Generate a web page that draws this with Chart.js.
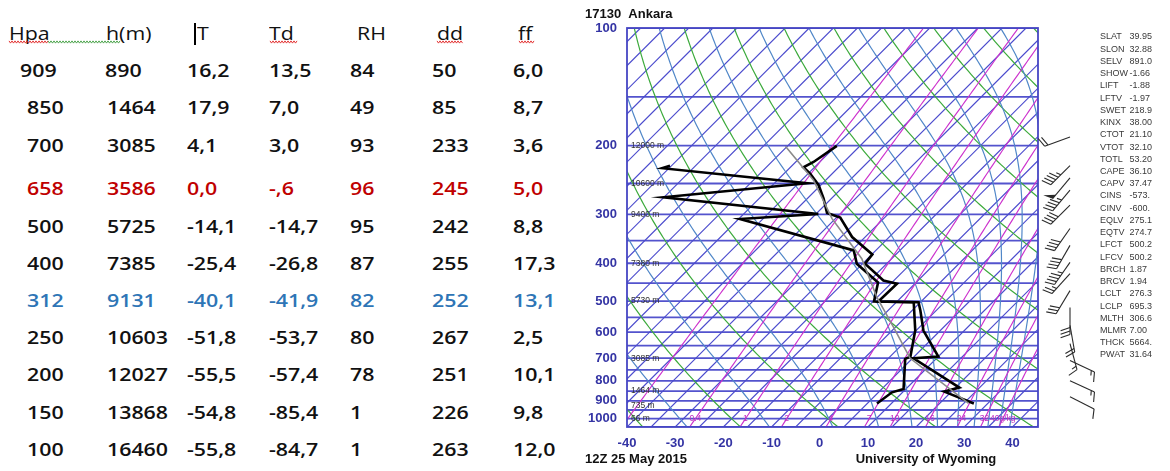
<!DOCTYPE html>
<html><head><meta charset="utf-8">
<script src="https://cdn.jsdelivr.net/npm/chart.js@4.4.1/dist/chart.umd.min.js"></script>
<style>
html,body{margin:0;padding:0;background:#fff;}
body{width:1170px;height:471px;position:relative;overflow:hidden;}
.cell{position:absolute;white-space:nowrap;font-family:"Open Sans",sans-serif;font-size:17.5px;line-height:20px;transform:scaleX(1.22);transform-origin:0 50%;color:#111;}
.v{font-weight:600;}
.h{font-weight:400;}
#c{position:absolute;left:580px;top:0;}
#squig{position:absolute;left:0;top:0;}
#cursor{position:absolute;left:194px;top:23px;width:2px;height:22px;background:#000;}
</style></head><body>
<div id="tbl"></div>
<svg id="squig" width="580" height="60"></svg>
<div id="cursor"></div>
<canvas id="c" width="590" height="471"></canvas>
<script>
// ---------------- table data ----------------
const tblHeaders = ['Hpa','h(m)','T','Td','RH','dd','ff'];
const tblP  = ['909','850','700','658','500','400','312','250','200','150','100'];
const tblH  = ['890','1464','3085','3586','5725','7385','9131','10603','12027','13868','16460'];
const tblT  = ['16,2','17,9','4,1','0,0','-14,1','-25,4','-40,1','-51,8','-55,5','-54,8','-55,8'];
const tblTd = ['13,5','7,0','3,0','-,6','-14,7','-26,8','-41,9','-53,7','-57,4','-85,4','-84,7'];
const tblRH = ['84','49','93','96','95','87','82','80','78','1','1'];
const tblDD = ['50','85','233','245','242','255','252','267','251','226','263'];
const tblFF = ['6,0','8,7','3,6','5,0','8,8','17,3','13,1','2,5','10,1','9,8','12,0'];

// ---------------- skew-T sounding ----------------
const tempP   = [200.3,220.2,227.2,235.8,252.6,273.3,297.5,305.7,342.8,379.7,401.1,442.7,451.4,501.0,503.2,528.4,594.7,693.3,700.3,832.5,852.4,914.0];
const tempT   = [-54.8,-56.3,-57.3,-54.6,-50.4,-46.6,-42.9,-39.2,-32.7,-24.9,-24.5,-17.2,-13.7,-13.9,-5.4,-3.3,1.5,10.0,5.2,20.8,18.5,27.1];
const dewP    = [225.2,228.5,249.7,271.2,299.3,308.3,370.8,401.1,447.9,501.0,503.2,594.7,693.3,702.8,839.0,855.9,914.0];
const dewT    = [-85.3,-86.4,-53.2,-80.1,-44.5,-59.7,-29.6,-26.2,-17.9,-14.8,-6.4,-0.2,4.2,3.6,9.5,7.8,7.0];
const parcelP = [200.7,245.3,307.5,389.5,488.5,583.2,700.3,914.0];
const parcelT = [-65.4,-52.5,-40.7,-26.2,-15.1,-5.4,4.5,26.0];

// wind barbs (knots)
const windP   = [190,225,242,260,284,326,360,398,425,470,519,577,642,710,799,878];
const windDir = [250,225,220,220,225,215,210,215,222,211,180,170,165,115,115,117];
const windKt  = [20,45,50,45,40,40,40,45,25,30,30,20,15,15,15,10];

// axis ticks and labels
const yTicks = [100,200,300,400,500,600,700,800,900,1000];
const xTicks = [-40,-30,-20,-10,0,10,20,30,40];
const hgtP   = [200,250,300,400,500,700,850,925,1000];
const hgtTxt = ['12000 m','10600 m','9400 m','7380 m','5730 m','3085 m','1464 m','735 m','66 m'];
const mixW      = [0.1,0.4,1,2,4,7,10,16,24,32,40];
const mixLblW   = [0.4,1,2,4,7,10,16,24,32,40];
const mixLblTxt = ['0.4','1','2','4','7','10','16','24','32','40g/kg'];
const dryTheta  = [-40,-20,0,20,40,60,80,100,120,140,160,180,200];
const moistThE  = [-30,-10,10,30,50,70,90,110,130,150,170];

const statNames = ['SLAT','SLON','SELV','SHOW','LIFT','LFTV','SWET','KINX','CTOT','VTOT','TOTL','CAPE','CAPV','CINS','CINV','EQLV','EQTV','LFCT','LFCV','BRCH','BRCV','LCLT','LCLP','MLTH','MLMR','THCK','PWAT'];
const statVals  = ['39.95','32.88','891.0','-1.66','-1.88','-1.97','218.9','38.00','21.10','32.10','53.20','36.10','37.47','-573.','-600.','275.1','274.7','500.2','500.2','1.87','1.94','276.3','695.3','306.6','7.00','5664.','31.64'];

// ---------------- table layout ----------------
const headLeft = [9,105.6,196.5,268.5,357.4,437,518];
const colLeft  = [26.7,107.4,187,268.5,350,432,513];
const rowY     = [70,107,145,188,226,263,300,337,374,412,449];
const rowColor = {3:'#c00000', 6:'#2e75b6'};
const tbl = document.getElementById('tbl');
function cell(txt, left, yc, cls, color){
  const d = document.createElement('div');
  d.className = 'cell ' + cls;
  d.textContent = txt;
  d.style.left = left + 'px';
  d.style.top = (yc - 10) + 'px';
  if (color) d.style.color = color;
  tbl.appendChild(d);
}
tblHeaders.forEach((h,i)=>cell(h, headLeft[i], 33, 'h'));
const cols = [tblP,tblH,tblT,tblTd,tblRH,tblDD,tblFF];
tblP.forEach((_,r)=>{
  cols.forEach((col,c)=>{
    let left = colLeft[c];
    if (r===0 && c===0) left = 20.4;
    if (r===0 && c===1) left = 104.8;
    cell(col[r], left, rowY[r], 'v', rowColor[r]);
  });
});
// spell-check squiggles
const squigSegs = [[9,48,'#e02020'],[48,121,'#3a9a3a'],[270,298,'#e02020'],[437,463,'#e02020'],[519,535,'#e02020']];
const svg = document.getElementById('squig');
squigSegs.forEach(([x1,x2,col])=>{
  let pts=[]; let k=0;
  for(let x=x1;x<=x2;x+=1.5,k++) pts.push(x+','+(42+(k%2?1.1:-1.1)));
  const pl=document.createElementNS('http://www.w3.org/2000/svg','polyline');
  pl.setAttribute('points',pts.join(' '));
  pl.setAttribute('fill','none'); pl.setAttribute('stroke',col); pl.setAttribute('stroke-width','0.9');
  svg.appendChild(pl);
});

// ---------------- skew-T helpers ----------------
const K = 35.22, PREF = 1050;
const skewX = (T,p) => T + K*Math.log(PREF/p);
function esat(Tc){ return 6.112*Math.exp(17.67*Tc/(Tc+243.5)); }
function thetaE(Tc,p){
  const TK=Tc+273.15, es=esat(Tc);
  if (es>0.6*p) return 1e6;
  const rs=0.622*es/(p-es);
  return TK*Math.pow(1000/p,0.2857)*Math.exp(2.5e6*rs/(1004*TK));
}
function moistT(te,p){
  let lo=-170, hi=60;
  for(let k=0;k<45;k++){ const m=(lo+hi)/2; if(thetaE(m,p)>te) hi=m; else lo=m; }
  return (lo+hi)/2;
}
function mixTd(w,p){
  const e=w*p/(622+w); const l=Math.log(e/6.112);
  return 243.5*l/(17.67-l);
}

function drawBarb(ctx,bx,by,dir,kt){
  const L=27, rad=dir*Math.PI/180;
  const sx=Math.sin(rad), sy=-Math.cos(rad);
  ctx.beginPath(); ctx.moveTo(bx,by); ctx.lineTo(bx+sx*L,by+sy*L); ctx.stroke();
  const a=70*Math.PI/180;
  const fx=sx*Math.cos(a)-sy*Math.sin(a), fy=sx*Math.sin(a)+sy*Math.cos(a);
  let rem=Math.round(kt/5)*5, d=L; const step=3.5, blen=10;
  while(rem>=50){
    ctx.beginPath();
    ctx.moveTo(bx+sx*d,by+sy*d);
    ctx.lineTo(bx+sx*d+fx*blen,by+sy*d+fy*blen);
    ctx.lineTo(bx+sx*(d-5),by+sy*(d-5));
    ctx.closePath(); ctx.fill();
    rem-=50; d-=7;
  }
  while(rem>=10){
    ctx.beginPath(); ctx.moveTo(bx+sx*d,by+sy*d); ctx.lineTo(bx+sx*d+fx*blen,by+sy*d+fy*blen); ctx.stroke();
    rem-=10; d-=step;
  }
  if(rem>=5){
    if(d===L) d-=step;
    ctx.beginPath(); ctx.moveTo(bx+sx*d,by+sy*d); ctx.lineTo(bx+sx*d+fx*blen/2,by+sy*d+fy*blen/2); ctx.stroke();
  }
}

const skewPlugin = {
  id:'skewT',
  beforeDatasetsDraw(chart){
    const {ctx, chartArea:a, scales:{x,y}} = chart;
    ctx.save();
    ctx.beginPath(); ctx.rect(a.left,a.top,a.right-a.left,a.bottom-a.top); ctx.clip();
    const ps=[]; for(let i=0;i<=120;i++) ps.push(100*Math.pow(PREF/100, i/120));
    const curve=(fnT,color,w)=>{
      ctx.beginPath();
      ps.forEach((p,i)=>{
        const px=x.getPixelForValue(skewX(fnT(p),p)), py=y.getPixelForValue(p);
        if(i===0) ctx.moveTo(px,py); else ctx.lineTo(px,py);
      });
      ctx.strokeStyle=color; ctx.lineWidth=w; ctx.stroke();
    };
    // isobars every 50 hPa
    ctx.strokeStyle='rgba(64,64,200,0.9)'; ctx.lineWidth=1.8;
    for(let p=100;p<=1050;p+=50){
      const py=y.getPixelForValue(p);
      ctx.beginPath(); ctx.moveTo(a.left,py); ctx.lineTo(a.right,py); ctx.stroke();
    }
    // isotherms
    for(let T=-125;T<=45;T+=5){
      ctx.beginPath();
      ctx.moveTo(x.getPixelForValue(skewX(T,PREF)), y.getPixelForValue(PREF));
      ctx.lineTo(x.getPixelForValue(skewX(T,100)), y.getPixelForValue(100));
      ctx.strokeStyle='rgba(75,75,205,1)'; ctx.lineWidth=1.15; ctx.stroke();
    }
    // dry adiabats
    dryTheta.forEach(th=>curve(p=>(th+273.15)*Math.pow(p/1000,0.2857)-273.15,'rgba(60,170,60,1)',1.2));
    // moist adiabats
    moistThE.forEach(te=>curve(p=>moistT(te+273.15,p),'rgba(80,135,200,1)',1.2));
    // mixing ratio
    mixW.forEach(w=>curve(p=>mixTd(w,p),'rgba(205,50,205,1)',1.15));
    ctx.restore();
    // border
    ctx.save();
    ctx.strokeStyle='#4646c4'; ctx.lineWidth=1.8;
    ctx.strokeRect(a.left,a.top,a.right-a.left,a.bottom-a.top);
    ctx.restore();
  },
  afterDatasetsDraw(chart){
    const {ctx, chartArea:a, scales:{x,y}} = chart;
    ctx.save();
    // height labels
    ctx.font='8.5px "Liberation Sans", Arial, sans-serif';
    ctx.fillStyle='#333'; ctx.textAlign='left'; ctx.textBaseline='middle';
    hgtP.forEach((p,i)=>ctx.fillText(hgtTxt[i], a.left+4, y.getPixelForValue(p)));
    // mixing ratio labels
    ctx.fillStyle='#c030c0'; ctx.textAlign='center';
    mixLblW.forEach((w,i)=>ctx.fillText(mixLblTxt[i], x.getPixelForValue(skewX(mixTd(w,1000),1000)), y.getPixelForValue(1000)));
    // axis labels
    ctx.font='bold 13px "Liberation Sans", Arial, sans-serif';
    ctx.fillStyle='#3434a4';
    ctx.textAlign='right';
    yTicks.forEach(p=>ctx.fillText(String(p), a.left-10, y.getPixelForValue(p)));
    ctx.textAlign='center';
    xTicks.forEach(v=>ctx.fillText(String(v), x.getPixelForValue(v), a.bottom+16));
    // titles
    ctx.fillStyle='#111'; ctx.textAlign='left';
    ctx.fillText('17130  Ankara', 5, 14);
    ctx.fillText('12Z 25 May 2015', 5, 459);
    ctx.textAlign='center';
    ctx.fillText('University of Wyoming', 346, 459);
    // wind barbs
    ctx.strokeStyle='#2a2a2a'; ctx.fillStyle='#2a2a2a'; ctx.lineWidth=1.1;
    windP.forEach((p,i)=>drawBarb(ctx, a.right+32, y.getPixelForValue(p), windDir[i], windKt[i]));
    // stats
    ctx.font='9px "Liberation Sans", Arial, sans-serif';
    ctx.fillStyle='#3a3a3a'; ctx.textAlign='left';
    statNames.forEach((n,i)=>{
      const yy=37+i*12.23;
      ctx.fillText(n, 520, yy);
      ctx.fillText(statVals[i], 549.5, yy);
    });
    ctx.restore();
  }
};

const mk = (P,T)=>P.map((p,i)=>({x:skewX(T[i],p), y:p}));
new Chart(document.getElementById('c'), {
  type:'scatter',
  data:{datasets:[
    {data:mk(parcelP,parcelT), showLine:true, borderColor:'#8a8a8a', borderWidth:1.6, pointRadius:0},
    {data:mk(tempP,tempT), showLine:true, borderColor:'#000', borderWidth:2.6, pointRadius:0},
    {data:mk(dewP,dewT), showLine:true, borderColor:'#000', borderWidth:2.6, pointRadius:0}
  ]},
  options:{
    responsive:false, animation:false, devicePixelRatio:1,
    layout:{padding:{left:47,top:28,right:132,bottom:44}},
    scales:{
      x:{type:'linear', min:-40, max:45.3, bounds:'data', display:false},
      y:{type:'logarithmic', reverse:true, min:100, max:1050, bounds:'data', display:false}
    },
    plugins:{legend:{display:false}, tooltip:{enabled:false}},
    elements:{line:{tension:0}}
  },
  plugins:[skewPlugin]
});
</script>
</body></html>
